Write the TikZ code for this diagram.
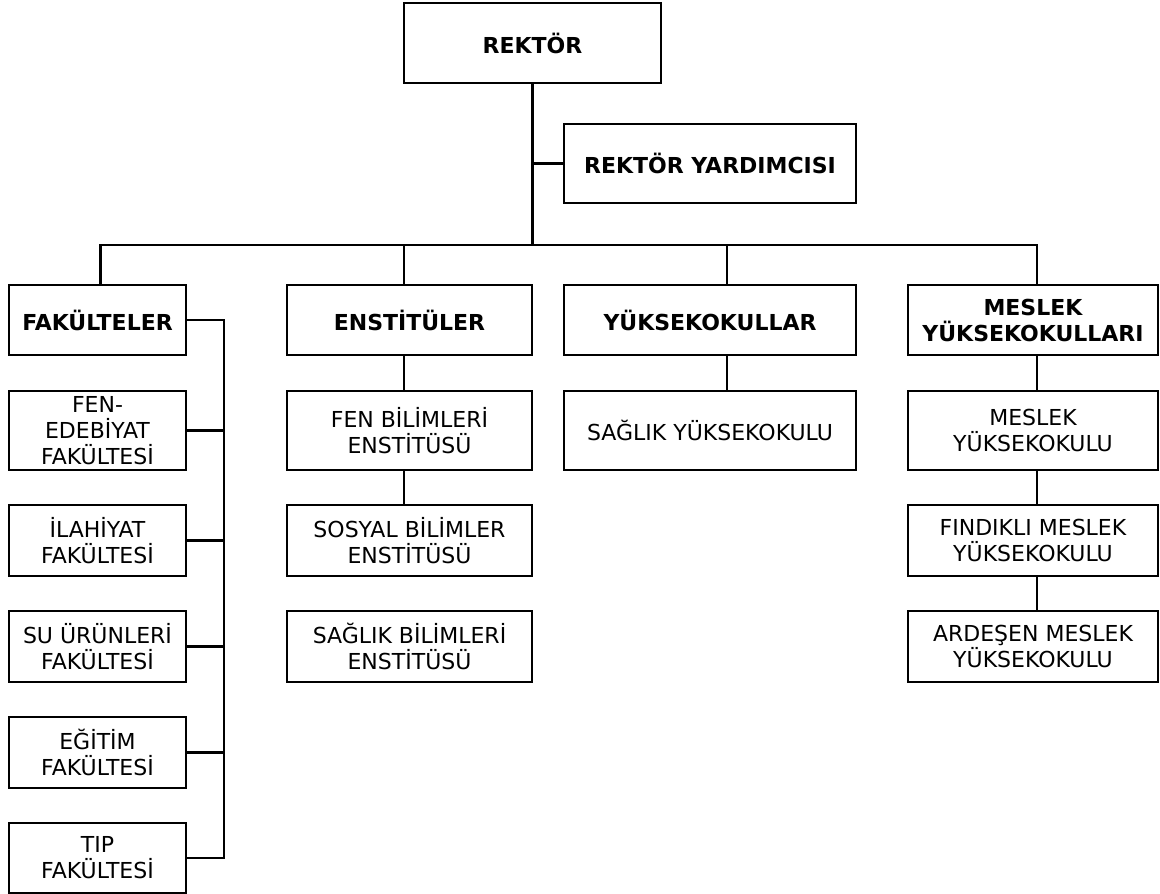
\documentclass[tikz,border=0pt]{standalone}
\usepackage{fontspec}
\setmainfont{DejaVu Sans}
\begin{document}
\begin{tikzpicture}[x=1pt,y=-1pt,
  box/.style={draw=black, line width=2.4pt, fill=white, inner sep=0pt, align=center,
    font=\fontsize{22}{26}\selectfont},
  hdr/.style={box, font=\fontsize{22}{26}\selectfont\bfseries},
  conn/.style={draw=black, line width=2.4pt}]
\useasboundingbox[fill=white] (0,0) rectangle (1160,894);
% top
\node[hdr, minimum width=257, minimum height=80] (rek) at (532.5,43) {REKTÖR};
\node[hdr, minimum width=292, minimum height=79] (yard) at (710,163.5) {REKTÖR YARDIMCISI};
% headers
\node[hdr, minimum width=177, minimum height=70] (fak) at (97.5,320) {FAKÜLTELER};
\node[hdr, minimum width=245, minimum height=70] (ens) at (409.5,320) {ENSTİTÜLER};
\node[hdr, minimum width=292, minimum height=70] (yuk) at (710,320) {YÜKSEKOKULLAR};
\node[hdr, minimum width=250, minimum height=70] (mes) at (1033,320) {MESLEK\\YÜKSEKOKULLARI};
% faculties
\node[box, minimum width=177, minimum height=79] (fened) at (97.5,430.5) {FEN-\\EDEBİYAT\\FAKÜLTESİ};
\node[box, minimum width=177, minimum height=71] (ilah) at (97.5,540.5) {İLAHİYAT\\FAKÜLTESİ};
\node[box, minimum width=177, minimum height=71] (suur) at (97.5,646.5) {SU ÜRÜNLERİ\\FAKÜLTESİ};
\node[box, minimum width=177, minimum height=71] (egit) at (97.5,752.5) {EĞİTİM\\FAKÜLTESİ};
\node[box, minimum width=177, minimum height=70] (tip) at (97.5,858) {TIP\\FAKÜLTESİ};
% institutes
\node[box, minimum width=245, minimum height=79] (fenbil) at (409.5,430.5) {FEN BİLİMLERİ\\ENSTİTÜSÜ};
\node[box, minimum width=245, minimum height=71] (sosyal) at (409.5,540.5) {SOSYAL BİLİMLER\\ENSTİTÜSÜ};
\node[box, minimum width=245, minimum height=71] (sagbil) at (409.5,646.5) {SAĞLIK BİLİMLERİ\\ENSTİTÜSÜ};
% schools
\node[box, minimum width=292, minimum height=79] (sagyo) at (710,430.5) {SAĞLIK YÜKSEKOKULU};
% vocational
\node[box, minimum width=250, minimum height=79] (mesyo) at (1033,430.5) {MESLEK\\YÜKSEKOKULU};
\node[box, minimum width=250, minimum height=71] (find) at (1033,540.5) {FINDIKLI MESLEK\\YÜKSEKOKULU};
\node[box, minimum width=250, minimum height=71] (arde) at (1033,646.5) {ARDEŞEN MESLEK\\YÜKSEKOKULU};
% coordinates
\coordinate (dF) at (100.5,245);
\coordinate (dE) at (404,245);
\coordinate (dY) at (727,245);
\coordinate (dM) at (1037,245);
\coordinate (sp) at (224,320);
% connectors
\draw[conn] (rek.south) -- (rek.south |- dF);
\draw[conn] (rek.south |- yard.west) -- (yard.west);
\draw[conn, line cap=rect] (dF) -- (dM);
\draw[conn] (dF) -- (dF |- fak.north);
\draw[conn] (dE) -- (dE |- ens.north);
\draw[conn] (dY) -- (dY |- yuk.north);
\draw[conn] (dM) -- (dM |- mes.north);
\draw[conn] (dE |- ens.south) -- (dE |- fenbil.north);
\draw[conn] (dE |- fenbil.south) -- (dE |- sosyal.north);
\draw[conn] (dY |- yuk.south) -- (dY |- sagyo.north);
\draw[conn] (dM |- mes.south) -- (dM |- mesyo.north);
\draw[conn] (dM |- mesyo.south) -- (dM |- find.north);
\draw[conn] (dM |- find.south) -- (dM |- arde.north);
\draw[conn] (fak.east) -- (sp) -- (sp |- tip.east) -- (tip.east);
\draw[conn] (fened.east) -- (sp |- fened.east);
\draw[conn] (ilah.east) -- (sp |- ilah.east);
\draw[conn] (suur.east) -- (sp |- suur.east);
\draw[conn] (egit.east) -- (sp |- egit.east);
\end{tikzpicture}
\end{document}
